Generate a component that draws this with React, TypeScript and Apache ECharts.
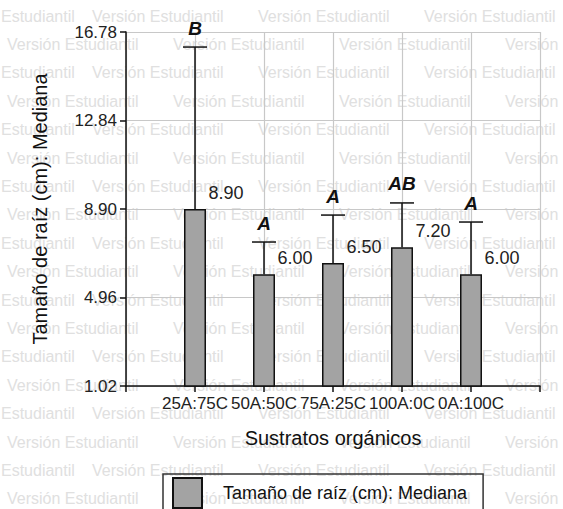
import React, { useEffect, useRef } from 'react';
import * as echarts from 'echarts';

const categories = ['25A:75C', '50A:50C', '75A:25C', '100A:0C', '0A:100C'];
const medians = [8.9, 6.0, 6.5, 7.2, 6.0];
const upperWhisker = [16.11, 7.43, 8.63, 9.17, 8.32];
const groupLetters = ['B', 'A', 'A', 'AB', 'A'];
const yTicks = [1.02, 4.96, 8.9, 12.84, 16.78];
const seriesName = 'Tamaño de raíz (cm): Mediana';
const xName = 'Sustratos orgánicos';
const watermarkFull = 'Versión Estudiantil';
const watermarkTail = 'Estudiantil';
const watermarkHead = 'Versión';

const FONT = '"Liberation Sans", Arial, sans-serif';

function buildWatermark() {
  const els: any[] = [];
  const mk = (text: string, x: number, y: number) => ({
    type: 'text',
    x,
    y,
    z: -10,
    silent: true,
    style: { text, font: `16px ${FONT}`, fill: '#e0e0e0', verticalAlign: 'middle' },
  });
  for (let r = 0; r < 18; r++) {
    const y = 16 + r * 28.4;
    if (r % 2 === 0) {
      els.push(mk(watermarkTail, 1, y));
      for (let k = 0; k < 3; k++) els.push(mk(watermarkFull, 92 + k * 166, y));
    } else {
      for (let k = 0; k < 3; k++) els.push(mk(watermarkFull, 7 + k * 166, y));
      els.push(mk(watermarkHead, 505, y));
    }
  }
  return els;
}

export default function App() {
  const ref = useRef<HTMLDivElement>(null);
  useEffect(() => {
    document.body.style.margin = '0';
    const chart = echarts.init(ref.current!, null, { renderer: 'svg' });
    const xData = ['', ...categories, ''];
    const barData: any[] = ['-', ...medians, '-'];
    const errData = categories.map((_, i) => [i + 1, medians[i], upperWhisker[i]]);
    chart.setOption({
      animation: false,
      backgroundColor: '#ffffff',
      textStyle: { fontFamily: FONT },
      graphic: { elements: buildWatermark() },
      grid: { left: 126, right: 23, top: 32, bottom: 123, containLabel: false },
      legend: {
        show: true,
        data: [{ name: seriesName, icon: 'rect' }],
        left: 163,
        top: 474,
        padding: [3, 16, 8, 9],
        itemWidth: 29,
        itemHeight: 30,
        borderColor: '#333',
        borderWidth: 1.5,
        textStyle: { fontSize: 18, color: '#111', padding: [0, 0, 0, 16] },
      },
      xAxis: {
        type: 'category',
        data: xData,
        boundaryGap: false,
        name: xName,
        nameLocation: 'middle',
        nameGap: 42,
        nameTextStyle: { fontSize: 20, color: '#111' },
        axisLine: { show: true, lineStyle: { color: '#111', width: 1.5 } },
        axisTick: { show: true, alignWithLabel: true, length: 6, lineStyle: { color: '#111', width: 1.5 } },
        axisLabel: { interval: 0, fontSize: 17, color: '#222', margin: 9 },
        splitLine: { show: true, lineStyle: { color: '#c8c8c8', width: 1.2 } },
      },
      yAxis: {
        type: 'value',
        min: yTicks[0],
        max: yTicks[yTicks.length - 1],
        interval: yTicks[1] - yTicks[0],
        name: seriesName,
        nameLocation: 'middle',
        nameGap: 76,
        nameTextStyle: { fontSize: 20, color: '#111' },
        axisLine: { show: true, lineStyle: { color: '#111', width: 1.5 } },
        axisTick: { show: true, length: 6, lineStyle: { color: '#111', width: 1.5 } },
        axisLabel: {
          fontSize: 17,
          color: '#222',
          margin: 9,
          formatter: (v: number) => v.toFixed(2),
        },
        splitLine: { show: true, lineStyle: { color: '#c8c8c8', width: 1.2 } },
      },
      series: [
        {
          name: seriesName,
          type: 'bar',
          data: barData,
          barWidth: 22,
          z: 3,
          itemStyle: { color: '#a3a3a3', borderColor: '#111', borderWidth: 1.5 },
          label: {
            show: true,
            position: [42, -16],
            align: 'center',
            verticalAlign: 'middle',
            fontSize: 18,
            color: '#222',
            formatter: (p: any) => Number(p.value).toFixed(2),
          },
        },
        {
          name: 'err',
          type: 'custom',
          data: errData,
          z: 4,
          encode: { x: 0, y: [1, 2] },
          renderItem: (params: any, api: any) => {
            const x = api.value(0);
            const lo = api.value(1);
            const hi = api.value(2);
            const p0 = api.coord([x, lo]);
            const p1 = api.coord([x, hi]);
            const letter = groupLetters[params.dataIndex];
            return {
              type: 'group',
              children: [
                {
                  type: 'line',
                  shape: { x1: p0[0], y1: p0[1], x2: p1[0], y2: p1[1] },
                  style: { stroke: '#111', lineWidth: 1.5 },
                },
                {
                  type: 'line',
                  shape: { x1: p1[0] - 12, y1: p1[1], x2: p1[0] + 12, y2: p1[1] },
                  style: { stroke: '#111', lineWidth: 1.5 },
                },
                {
                  type: 'text',
                  x: p1[0],
                  y: p1[1] - 19,
                  style: {
                    text: letter,
                    font: `italic bold 19px ${FONT}`,
                    fill: '#111',
                    align: 'center',
                    verticalAlign: 'middle',
                  },
                },
              ],
            };
          },
        },
      ],
    });
    return () => chart.dispose();
  }, []);
  return <div ref={ref} style={{ width: 563, height: 509 }} />;
}
